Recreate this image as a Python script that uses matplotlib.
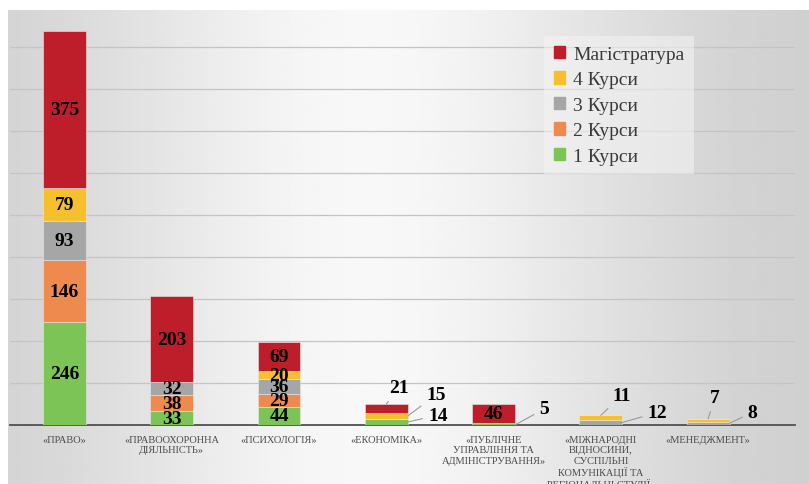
import numpy as np
import matplotlib
matplotlib.use("Agg")
import matplotlib.pyplot as plt
from matplotlib.patches import Rectangle

# дані
categories = ["«ПРАВО»", "«ПРАВООХОРОННА\nДІЯЛЬНІСТЬ»", "«ПСИХОЛОГІЯ»", "«ЕКОНОМІКА»",
              "«ПУБЛІЧНЕ\nУПРАВЛІННЯ ТА\nАДМІНІСТРУВАННЯ»",
              "«МІЖНАРОДНІ\nВІДНОСИНИ,\nСУСПІЛЬНІ\nКОМУНІКАЦІЇ ТА\nРЕГІОНАЛЬНІ СТУДІЇ»",
              "«МЕНЕДЖМЕНТ»"]
kurs1 = [246, 33, 44, 14, 5, 0, 0]
kurs2 = [146, 38, 29, 0, 0, 0, 0]
kurs3 = [93, 32, 36, 0, 0, 12, 8]
kurs4 = [79, 0, 20, 15, 0, 11, 7]
magistr = [375, 203, 69, 21, 46, 0, 0]

series_names = ["1 Курси", "2 Курси", "3 Курси", "4 Курси", "Магістратура"]
series = [kurs1, kurs2, kurs3, kurs4, magistr]
colors = ["#7dc457", "#ee8a4e", "#a6a6a6", "#f6c02d", "#be1e2a"]

# підписи з виносками: (серія, категорія) -> зсув у пікселях, точка прив'язки
leaders = {
    (4, 3): ((13, 16), "top"),
    (3, 3): ((28, 21), "right"),
    (0, 3): ((30, 7), "right"),
    (0, 4): ((29, 16), "rightbottom"),
    (3, 5): ((21, 20), "top"),
    (2, 5): ((35, 10), "right"),
    (3, 6): ((7, 21), "top"),
    (2, 6): ((23, 11), "right"),
}

W, H = 809, 485
fig = plt.figure(figsize=(W / 100, H / 100), dpi=100)
fig.patch.set_facecolor("white")

# фон слайда з градієнтом
bg = fig.add_axes([8 / W, 0, 1 - 8 / W, (H - 11) / H])
xs = np.linspace(0, 1, 400)
shade = 0.80 + 0.17 * np.exp(-((xs - 0.45) / 0.35) ** 2)
img = np.tile(shade, (10, 1))
bg.imshow(img, cmap="gray", vmin=0, vmax=1, aspect="auto", extent=[0, 1, 0, 1])
bg.axis("off")

ax = fig.add_axes([10 / W, 59 / H, 785 / W, 415 / H])
ax.set_facecolor("none")
ax.set_xlim(-0.508, 6.81)
ax.set_ylim(0, 988)

x = np.arange(len(categories))
bw = 0.40
bottom = np.zeros(len(categories))
for i, (name, vals, c) in enumerate(zip(series_names, series, colors)):
    vals = np.array(vals, dtype=float)
    ax.bar(x, vals, bw, bottom=bottom, color=c, edgecolor="#e8e8e8", linewidth=0.4,
           label=name, zorder=3)
    for j, v in enumerate(vals):
        if v == 0:
            continue
        if (i, j) in leaders:
            (dx, dy), where = leaders[(i, j)]
            if where == "top":
                xy = (x[j], bottom[j] + v)
            elif where == "right":
                xy = (x[j] + bw / 2, bottom[j] + v / 2)
            else:
                xy = (x[j] + bw / 2, bottom[j])
            ax.annotate(f"{int(v)}", xy=xy, xytext=(dx, dy), textcoords="offset pixels",
                        ha="center", va="center", fontsize=14, fontweight="bold",
                        family="Liberation Serif", color="black", zorder=5,
                        arrowprops=dict(arrowstyle="-", color="#9a9a9a", lw=0.8,
                                        shrinkA=2, shrinkB=0))
        else:
            ax.text(x[j], bottom[j] + v / 2, f"{int(v)}", ha="center", va="center",
                    fontsize=14, fontweight="bold", family="Liberation Serif",
                    color="black", zorder=5)
    bottom += vals

ax.set_yticks(np.arange(100, 1000, 100))
ax.yaxis.grid(True, color="#c4c4c4", linewidth=0.9, zorder=1)
ax.tick_params(axis="y", left=False, labelleft=False)
ax.tick_params(axis="x", bottom=False, pad=4)
ax.set_xticks(x)
ax.set_xticklabels(categories, fontsize=7.5, family="Liberation Serif", color="#4a4a4a",
                   linespacing=1.15, va="top")
for s in ["top", "right", "left"]:
    ax.spines[s].set_visible(False)
ax.spines["bottom"].set_color("#505050")
ax.spines["bottom"].set_linewidth(1.3)

handles = [Rectangle((0, 0), 1, 1, color=c) for c in colors[::-1]]
leg = ax.legend(handles, series_names[::-1], loc="upper left", bbox_to_anchor=(0.668, 0.96),
                prop={"family": "Liberation Serif", "size": 14}, handlelength=0.6,
                handleheight=0.6, handletextpad=0.4, labelspacing=0.43,
                frameon=True, fancybox=False, borderpad=0.5)
leg.get_frame().set_facecolor("#f4f4f4")
leg.get_frame().set_alpha(0.55)
leg.get_frame().set_edgecolor("none")
for t in leg.get_texts():
    t.set_color("#3a3a3a")

fig.savefig("out.png", dpi=100)
